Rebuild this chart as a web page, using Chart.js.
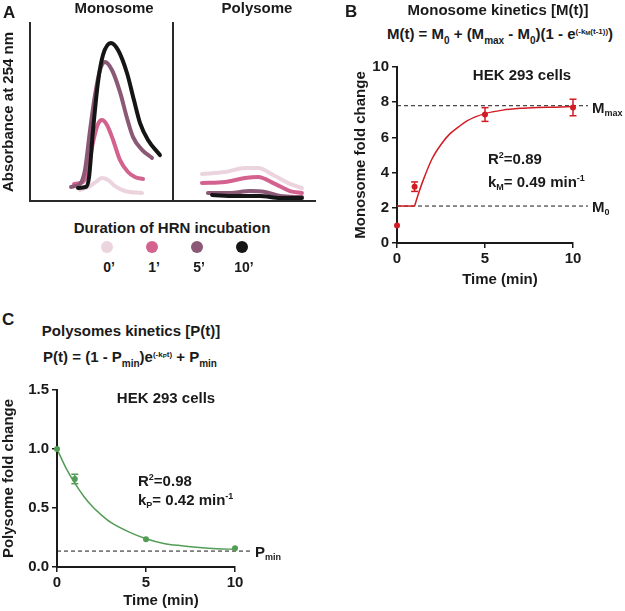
<!DOCTYPE html>
<html>
<head>
<meta charset="utf-8">
<script src="https://cdn.jsdelivr.net/npm/chart.js@4.4.1/dist/chart.umd.min.js"></script>
<style>
  html, body { margin: 0; padding: 0; background: #fff; }
  body { width: 625px; height: 611px; position: relative; overflow: hidden;
         font-family: "Liberation Sans", Arial, sans-serif; font-weight: bold; color: #1a1a1a; }
  canvas { position: absolute; }
  .t { position: absolute; white-space: nowrap; line-height: 1; }
  .c { transform: translateX(-50%); }
  .sub { font-size: 9px; vertical-align: -3px; line-height: 0; }
  .sup { font-size: 9px; vertical-align: 6px; line-height: 0; }
  .fsub { font-size: 10px; vertical-align: -5px; line-height: 0; }
  .fsup { font-size: 8px; vertical-align: 5px; line-height: 0; }
  .fsub2 { font-size: 6px; vertical-align: -1px; line-height: 0; }
  .dot { position: absolute; width: 12px; height: 12px; border-radius: 50%; transform: translate(-50%, -50%); }
</style>
</head>
<body>

<!-- Panel A -->
<canvas id="monoTrace" width="175" height="210" style="left:0;top:0"></canvas>
<canvas id="polyTrace" width="149" height="210" style="left:171px;top:0"></canvas>
<div class="t" style="left:3px;top:4px;font-size:17px">A</div>
<div class="t c" style="left:114px;top:0px;font-size:15px">Monosome</div>
<div class="t c" style="left:257px;top:0px;font-size:15px">Polysome</div>
<div class="t c" style="left:172px;top:220px;font-size:15px">Duration of HRN incubation</div>
<div id="legend"></div>

<!-- Panel B -->
<canvas id="monoKin" width="295" height="250" style="left:330px;top:50px"></canvas>
<div class="t" style="left:345px;top:3px;font-size:17px">B</div>
<div class="t c" style="left:498px;top:2px;font-size:15px">Monosome kinetics [M(t)]</div>
<div class="t c" style="left:500px;top:26px;font-size:15px">M(t) = M<span class="fsub">0</span> + (M<span class="fsub">max</span> - M<span class="fsub">0</span>)(1 - e<span class="fsup">(-k<span class="fsub2">M</span>(t-1))</span>)</div>
<div class="t c" style="left:522px;top:67px;font-size:15px">HEK 293 cells</div>
<div class="t" style="left:488px;top:151px;font-size:15px">R<span class="sup">2</span>=0.89</div>
<div class="t" style="left:488px;top:174px;font-size:15px">k<span class="sub">M</span>= 0.49 min<span class="sup">-1</span></div>
<div class="t" style="left:592px;top:100px;font-size:15px">M<span class="sub">max</span></div>
<div class="t" style="left:592px;top:199px;font-size:15px">M<span class="sub">0</span></div>
<div class="t c" style="left:500px;top:271px;font-size:15px">Time (min)</div>

<!-- Panel C -->
<canvas id="polyKin" width="280" height="241" style="left:0;top:370px"></canvas>
<div class="t" style="left:2px;top:311px;font-size:17px">C</div>
<div class="t c" style="left:131px;top:323px;font-size:15px">Polysomes kinetics [P(t)]</div>
<div class="t c" style="left:130px;top:349px;font-size:15px">P(t) = (1 - P<span class="fsub">min</span>)e<span class="fsup">(-k<span class="fsub2">P</span>t)</span> + P<span class="fsub">min</span></div>
<div class="t c" style="left:166px;top:390px;font-size:15px">HEK 293 cells</div>
<div class="t" style="left:138px;top:473px;font-size:15px">R<span class="sup">2</span>=0.98</div>
<div class="t" style="left:138px;top:492px;font-size:15px">k<span class="sub">P</span>= 0.42 min<span class="sup">-1</span></div>
<div class="t" style="left:255px;top:544px;font-size:15px">P<span class="sub">min</span></div>
<div class="t c" style="left:161px;top:592px;font-size:15px">Time (min)</div>

<script>
// ---- Panel A: absorbance traces (arbitrary units) along the gradient ----
const durationLabels = ["0\u2019", "1\u2019", "5\u2019", "10\u2019"];

const monoPos0 = [35.2, 42.3, 47.2, 50.7, 54.9, 59.9, 66.9, 78.9];
const monoAbs0 = [6.2, 8.4, 11.2, 12.9, 11.8, 8.4, 5.6, 4.5];
const monoPos1 = [31.0, 37.3, 40.8, 44.4, 47.9, 50.7, 54.2, 58.5, 63.4, 69.0, 73.9, 79.6];
const monoAbs1 = [9.6, 10.7, 17.4, 33.1, 43.3, 45.5, 42.7, 34.3, 23.0, 16.3, 13.5, 12.4];
const monoPos5 = [28.9, 35.2, 38.7, 42.3, 45.8, 49.3, 52.8, 57.7, 63.4, 68.3, 72.5, 78.9, 85.9];
const monoAbs5 = [7.9, 9.6, 17.4, 39.9, 59.6, 73.6, 78.1, 73.6, 61.2, 46.6, 36.0, 28.7, 24.2];
const monoPos10 = [33.8, 39.4, 41.5, 44.4, 47.9, 51.4, 57.0, 62.0, 68.3, 73.2, 77.5, 83.1, 91.5];
const monoAbs10 = [7.3, 7.9, 12.9, 39.9, 66.9, 82.0, 88.8, 84.8, 71.9, 56.7, 43.8, 34.3, 25.8];

const polyPos0 = [20.4, 36.6, 50.7, 59.9, 71.8, 82.4, 90.8];
const polyAbs0 = [15.2, 16.3, 18.5, 18.5, 14.0, 9.6, 7.3];
const polyPos1 = [20.4, 36.6, 50.7, 59.9, 71.8, 82.4, 90.8];
const polyAbs1 = [10.1, 10.7, 12.9, 13.5, 9.6, 5.6, 4.5];
const polyPos5 = [24.6, 40.1, 54.2, 64.8, 75.4, 90.8];
const polyAbs5 = [4.5, 4.5, 5.6, 5.1, 2.8, 2.2];
const polyPos10 = [27.5, 43.7, 61.3, 75.4, 90.8];
const polyAbs10 = [3.4, 2.8, 2.8, 1.7, 1.7];

// ---- Panel B: monosome fold change ----
const timePoints = [0, 1, 5, 10];
const monoMean = [1.0, 3.2, 7.3, 7.7];
const monoSem = [0, 0.27, 0.39, 0.47];
const monoFitT = [1, 1.25, 1.5, 2, 2.5, 3, 3.5, 4, 5, 6, 7, 8, 9, 10];
const monoFitM = [2.1, 2.9, 3.6, 4.8, 5.6, 6.2, 6.6, 6.95, 7.35, 7.55, 7.65, 7.7, 7.72, 7.75];
const monoM0 = 2.1;
const monoMmax = 7.8;

// ---- Panel C: polysome fold change ----
const polyMean = [1.0, 0.746, 0.235, 0.158];
const polySem = [0, 0.04, 0, 0];
const polyFitT = [0, 0.5, 1, 1.5, 2, 2.5, 3, 4, 5, 6, 7, 8, 9, 10];
const polyFitP = [1.0, 0.84, 0.71, 0.6, 0.51, 0.44, 0.38, 0.3, 0.24, 0.2, 0.18, 0.165, 0.155, 0.15];
const polyPmin = 0.135;

// tick labels
const timeTicks = [0, 5, 10];
const monoYTicks = [0, 2, 4, 6, 8, 10];
const polyYTicks = [0, 0.5, 1.0, 1.5];

// styles
const durationColors = ['#ecd4de', '#d3628f', '#8b5976', '#151515'];
const red = '#d21c24';
const green = '#539c55';
const ink = '#1a1a1a';
const dashEnd = 10.85;   // dashed reference lines run a bit past the x axis

Chart.defaults.font.family = '"Liberation Sans", Arial, sans-serif';
Chart.defaults.font.weight = 'bold';
Chart.defaults.color = ink;

const pts = (xs, ys) => xs.map((x, i) => ({ x: x, y: ys[i] }));

// legend for panel A
const legend = document.getElementById('legend');
durationLabels.forEach((lab, i) => {
  const x = 107 + i * 45;
  const d = document.createElement('div');
  d.className = 'dot';
  d.style.left = x + 'px';
  d.style.top = '247px';
  d.style.background = durationColors[i];
  legend.appendChild(d);
  const t = document.createElement('div');
  t.className = 't c';
  t.style.left = (x + 2) + 'px';
  t.style.top = '260px';
  t.style.fontSize = '14px';
  t.textContent = lab;
  legend.appendChild(t);
});

function traceChart(id, series, pad, yWidth, yTitle) {
  return new Chart(document.getElementById(id), {
    type: 'scatter',
    data: {
      datasets: series.map((s, i) => ({
        data: pts(s[0], s[1]),
        showLine: true,
        borderColor: durationColors[i],
        borderWidth: 4,
        pointRadius: 0,
        cubicInterpolationMode: 'monotone',
        borderCapStyle: 'round',
        borderJoinStyle: 'round',
        order: 3 - i
      }))
    },
    options: {
      responsive: false,
      animation: false,
      events: [],
      layout: { padding: pad },
      plugins: { legend: { display: false }, tooltip: { enabled: false } },
      scales: {
        x: {
          type: 'linear', min: 0, max: 100,
          ticks: { display: false },
          grid: { display: false, drawTicks: false },
          border: { color: '#2a2a2a', width: 2 },
          afterFit: s => { s.height = 9; }
        },
        y: {
          type: 'linear', min: 0, max: 100,
          ticks: { display: false },
          grid: { display: false, drawTicks: false },
          border: { color: '#2a2a2a', width: 2 },
          title: { display: !!yTitle, text: yTitle || '', font: { size: 15, weight: 'bold' }, padding: 0 },
          afterFit: s => { s.width = yWidth; }
        }
      }
    }
  });
}

traceChart('monoTrace',
  [[monoPos0, monoAbs0], [monoPos1, monoAbs1], [monoPos5, monoAbs5], [monoPos10, monoAbs10]],
  { left: 0, top: 23, right: 3, bottom: 0 }, 30, 'Absorbance at 254 nm');
traceChart('polyTrace',
  [[polyPos0, polyAbs0], [polyPos1, polyAbs1], [polyPos5, polyAbs5], [polyPos10, polyAbs10]],
  { left: 0, top: 23, right: 5, bottom: 0 }, 2, '');

function errorBars(ts, means, errs, color) {
  const out = [];
  ts.forEach((t, i) => {
    if (!errs[i]) return;
    out.push({
      data: [{ x: t, y: means[i] - errs[i] }, { x: t, y: means[i] + errs[i] }],
      showLine: true, borderColor: color, borderWidth: 1.5,
      pointStyle: 'line', pointRadius: 3.5, pointBorderColor: color, pointBorderWidth: 1.5,
      clip: false, order: 1
    });
  });
  return out;
}

function dashed(y) {
  return {
    data: [{ x: 0, y: y }, { x: dashEnd, y: y }],
    showLine: true, borderColor: ink, borderWidth: 1, borderDash: [4, 3],
    pointRadius: 0, clip: false, order: 5
  };
}

function kineticsChart(id, datasets, yTicks, yMax, yFmt, yTitle, titlePad, pad, yWidth, xHeight) {
  return new Chart(document.getElementById(id), {
    type: 'scatter',
    data: { datasets: datasets },
    options: {
      responsive: false,
      animation: false,
      events: [],
      layout: { padding: pad },
      plugins: { legend: { display: false }, tooltip: { enabled: false } },
      scales: {
        x: {
          type: 'linear', min: 0, max: 10,
          afterBuildTicks: s => { s.ticks = timeTicks.map(v => ({ value: v })); },
          ticks: { font: { size: 15, weight: 'bold' }, color: ink, padding: 2, maxRotation: 0 },
          grid: { display: true, drawOnChartArea: false, drawTicks: true, tickLength: 5, color: ink, lineWidth: 1.5 },
          border: { color: ink, width: 2 },
          afterFit: s => { s.height = xHeight; }
        },
        y: {
          type: 'linear', min: 0, max: yMax,
          afterBuildTicks: s => { s.ticks = yTicks.map(v => ({ value: v })); },
          ticks: { font: { size: 15, weight: 'bold' }, color: ink, padding: 3, callback: yFmt },
          grid: { display: true, drawOnChartArea: false, drawTicks: true, tickLength: 5, color: ink, lineWidth: 1.5 },
          border: { color: ink, width: 2 },
          title: { display: true, text: yTitle, font: { size: 15, weight: 'bold' }, color: ink, padding: { top: titlePad, bottom: 0 } },
          afterFit: s => { s.width = yWidth; }
        }
      }
    }
  });
}

kineticsChart('monoKin', [
  { data: pts(timePoints, monoMean), pointRadius: 3, pointBackgroundColor: red, pointBorderWidth: 0, clip: false, order: 0 },
  ...errorBars(timePoints, monoMean, monoSem, red),
  { data: [{ x: 0, y: monoM0 }, { x: 1, y: monoM0 }], showLine: true, borderColor: red, borderWidth: 1.5, pointRadius: 0, order: 2 },
  { data: pts(monoFitT, monoFitM), showLine: true, borderColor: red, borderWidth: 1.5, pointRadius: 0, cubicInterpolationMode: 'monotone', order: 2 },
  dashed(monoMmax),
  dashed(monoM0)
], monoYTicks, 10, v => v, 'Monosome fold change', 22, { left: 0, top: 17, right: 52, bottom: 0 }, 67, 57);

kineticsChart('polyKin', [
  { data: pts(timePoints, polyMean), pointRadius: 3, pointBackgroundColor: green, pointBorderWidth: 0, clip: false, order: 0 },
  ...errorBars(timePoints, polyMean, polySem, green),
  { data: pts(polyFitT, polyFitP), showLine: true, borderColor: green, borderWidth: 1.5, pointRadius: 0, cubicInterpolationMode: 'monotone', order: 2 },
  dashed(polyPmin)
], polyYTicks, 1.5, v => v.toFixed(1), 'Polysome fold change', 0, { left: 0, top: 20, right: 45, bottom: 0 }, 57, 44);
</script>
</body>
</html>
